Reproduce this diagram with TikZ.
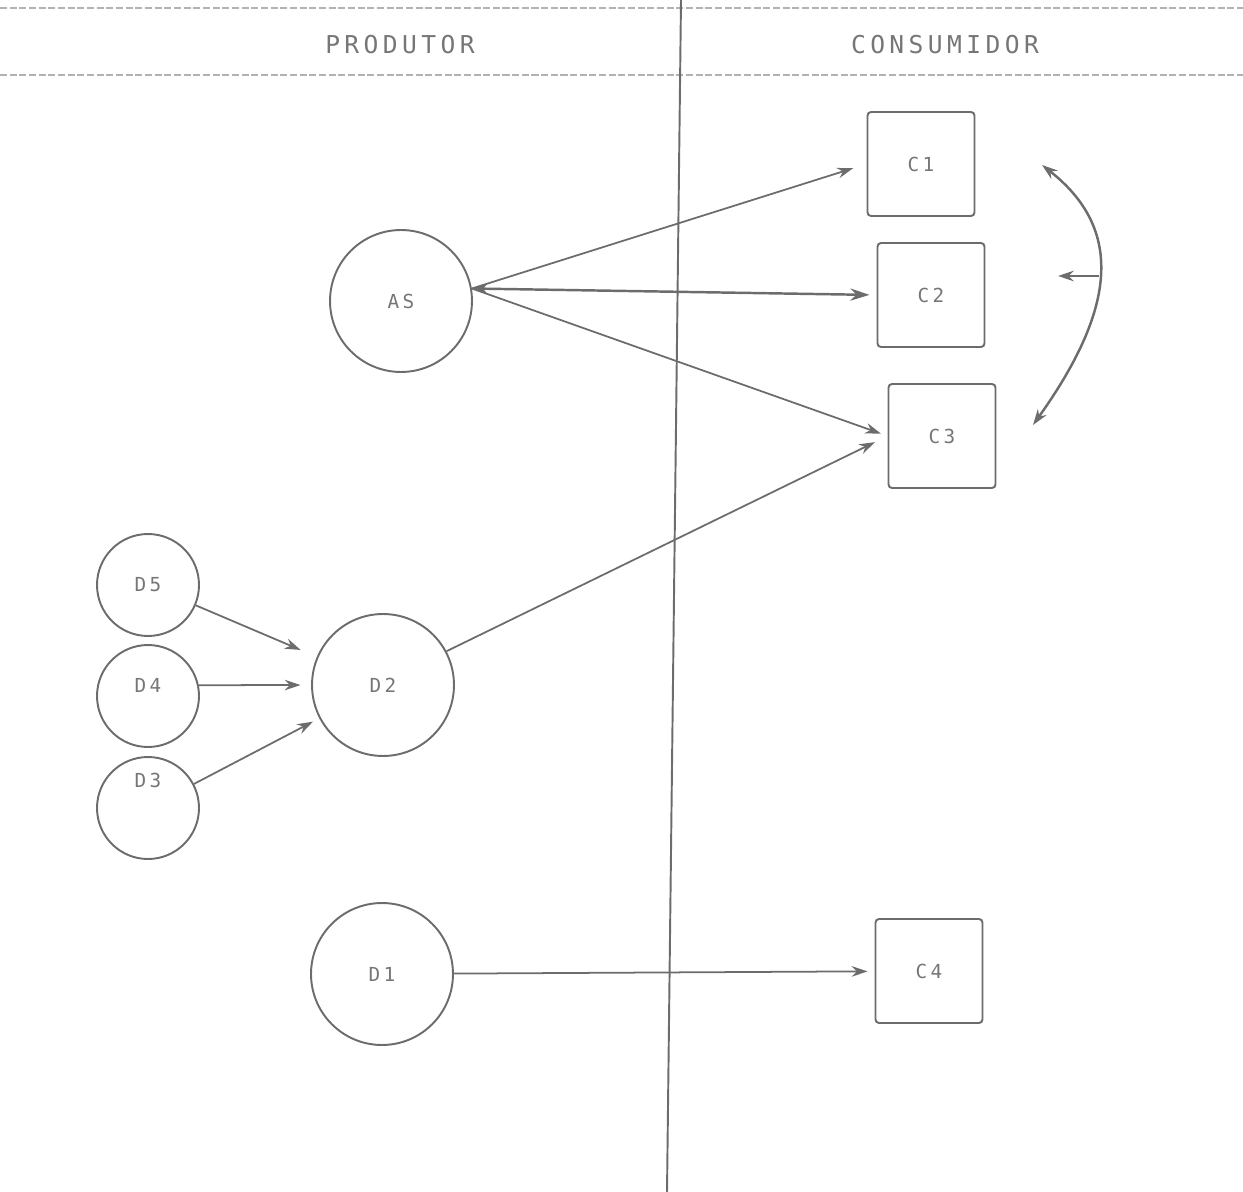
\documentclass[tikz,border=0pt]{standalone}
\usepackage{fontspec}
\setmonofont{DejaVu Sans Mono}[LetterSpace=18]
\usetikzlibrary{arrows.meta}
\definecolor{ink}{RGB}{108,108,108}
\definecolor{schrift}{RGB}{118,118,118}
\tikzset{
  produtor/.style={draw=ink, circle, line width=1.1pt, inner sep=0pt, text=schrift,
    font=\fontsize{11}{13}\ttfamily},
  gross/.style={produtor, minimum size=2.84cm},
  klein/.style={produtor, minimum size=2.04cm},
  consumidor/.style={draw=ink, rectangle, rounded corners=2pt, line width=1.1pt,
    minimum width=2.14cm, minimum height=2.08cm, text=schrift, font=\fontsize{11}{13}\ttfamily},
  titel/.style={text=schrift, font=\fontsize{14}{16}\ttfamily},
  punkte/.style={draw=gray!60, line width=0.7pt, dash pattern=on 4pt off 1.5pt},
  fluss/.style={draw=ink, line width=1pt, -{Stealth[length=9pt, width=6pt]}}
}
\begin{document}
\begin{tikzpicture}[x=0.02cm, y=-0.02cm]
\useasboundingbox (0,0) rectangle (1243,1192);

% Kopfzeile
\draw[punkte] (0,8) -- (1243,8);
\draw[punkte] (0,75) -- (1243,75);
\node[titel] (Produtor) at (400,45) {PRODUTOR};
\node[titel] (Consumidor) at (945,45) {CONSUMIDOR};
\draw[ink, line width=1.1pt] (681,0) -- (667,1192);

% Produtores
\node[gross] (AS) at (401,301) {AS};
\node[gross] (D2) at (383,685) {D2};
\node[gross] (D1) at (382,974) {D1};
\node[klein] (D5) at (148,585) {D5};
\node[klein] (D4) at (148,696) {\raisebox{0.44cm}{D4}};
\node[klein] (D3) at (148,808) {\raisebox{1.12cm}{D3}};

% Consumidores
\node[consumidor] (C1) at (921,164) {C1};
\node[consumidor] (C2) at (931,295) {C2};
\node[consumidor] (C3) at (942,436) {C3};
\node[consumidor] (C4) at (929,971) {C4};

% Fluesse
\draw[fluss] (AS.10) -- (C1.west) [shorten >=8pt];
\draw[fluss, {Stealth[length=9pt, width=6pt]}-{Stealth[length=11pt, width=7pt]}, line width=1.4pt] (AS.10) -- (C2.west) [shorten >=4pt];
\draw[fluss] (AS.10) -- (C3.west) [shorten >=4pt];
\draw[fluss] (D2.28) -- (C3.west) [shorten >=8pt];
\draw[fluss] (D5) -- (D2) [shorten >=10pt];
\draw[fluss] (D4.12) -- (D2.west) [shorten >=6pt];
\draw[fluss] (D3) -- (D2) [shorten >=4pt];
\draw[fluss] (D1) -- (C4) [shorten >=4pt];

% Wechsel
\coordinate (ArcTop) at (1042,165);
\coordinate (ArcBot) at (1033,425);
\coordinate (ArcMid) at (1099,276);
\coordinate (ArcTip) at (1058,276);
\draw[fluss, {Stealth[length=9pt, width=6pt]}-{Stealth[length=9pt, width=6pt]}, line width=1.4pt]
  (ArcTop) .. controls (1125,230) and (1115,310) .. (ArcBot);
\draw[fluss] (ArcMid) -- (ArcTip);

\end{tikzpicture}
\end{document}
